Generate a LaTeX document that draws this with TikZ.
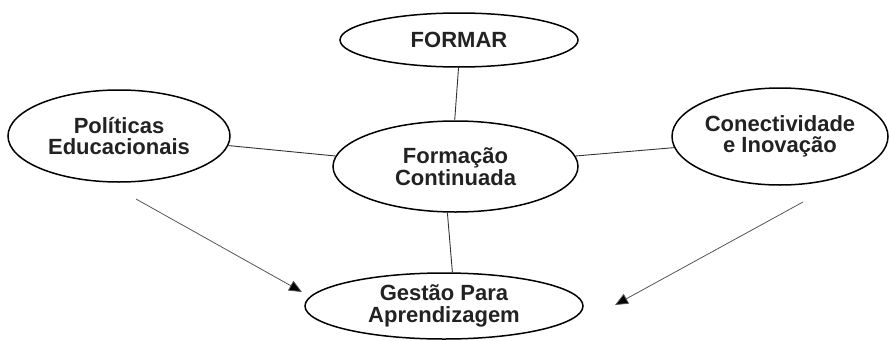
\documentclass[tikz,border=0pt]{standalone}
\usepackage{fontspec}
\setmainfont{Liberation Sans}
\usetikzlibrary{shapes.geometric,arrows.meta}
\definecolor{txt}{HTML}{222222}
\definecolor{conn}{HTML}{333333}
\definecolor{arr}{HTML}{555555}
\tikzset{
  bubble/.style={ellipse, draw=black, line width=1.5pt, inner sep=0pt,
    align=center, text=txt, font=\fontsize{22}{21.5}\selectfont\bfseries},
  link/.style={draw=conn, line width=0.9pt},
  flow/.style={draw=arr, line width=0.8pt, -{Triangle[length=13pt,width=11pt,fill=black]}}
}
\begin{document}
\begin{tikzpicture}[x=1pt,y=-1pt]
\useasboundingbox (0,0) rectangle (890,340);
\node[bubble, minimum width=238pt, minimum height=54pt] (formar) at (459,40) {FORMAR};
\node[bubble, minimum width=222pt, minimum height=92pt] (pol) at (119,136) {Políticas\\Educacionais};
\node[bubble, minimum width=245pt, minimum height=91pt] (form) at (455.5,166.5) {Formação\\Continuada};
\node[bubble, minimum width=216pt, minimum height=97pt] (con) at (780,136.5) {Conectividade\\e Inovação};
\node[bubble, minimum width=278pt, minimum height=66pt] (gest) at (444,306) {Gestão Para\\Aprendizagem};
\coordinate (a1s) at (136,199);
\coordinate (a1e) at (302,292);
\coordinate (a2s) at (803,202);
\coordinate (a2e) at (615,305);
\draw[link] (formar.-91) -- (form.91);
\draw[link] (pol.-5) -- (form.175);
\draw[link] (form.5) -- (con.186);
\draw[link] (form.260) -- (gest.76);
\draw[flow] (a1s) -- (a1e);
\draw[flow] (a2s) -- (a2e);
\end{tikzpicture}
\end{document}
